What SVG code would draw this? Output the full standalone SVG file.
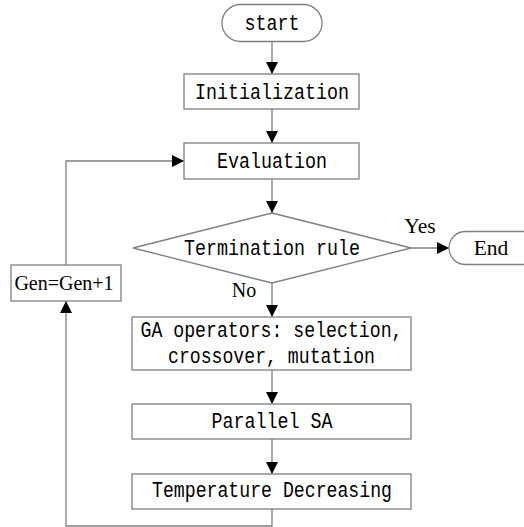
<svg xmlns="http://www.w3.org/2000/svg" width="524" height="527" viewBox="0 0 524 527">
<style>
.box{fill:#fff;stroke:#7f7f7f;stroke-width:1.3}
.ln{fill:none;stroke:#7f7f7f;stroke-width:1.3}
.mono{font-family:"Liberation Mono","DejaVu Sans Mono",monospace;font-size:22px;fill:#000;text-anchor:middle}
.serif{font-family:"Liberation Serif","Times New Roman",serif;font-size:20px;fill:#000;text-anchor:middle}
.big{font-size:21.5px}
</style>
<defs>
<marker id="arr" markerWidth="12" markerHeight="12" refX="12" refY="6" orient="auto" markerUnits="userSpaceOnUse">
<path d="M0,0 L12,6 L0,12 Z" fill="#000"/>
</marker>
</defs>
<rect width="524" height="527" fill="#fff"/>
<g id="connectors">
<line class="ln" x1="272" y1="41" x2="272" y2="74" marker-end="url(#arr)"/>
<line class="ln" x1="272" y1="109" x2="272" y2="143" marker-end="url(#arr)"/>
<line class="ln" x1="272" y1="179" x2="272" y2="213" marker-end="url(#arr)"/>
<line class="ln" x1="411" y1="248" x2="449" y2="248" marker-end="url(#arr)"/>
<line class="ln" x1="272" y1="283" x2="272" y2="317" marker-end="url(#arr)"/>
<line class="ln" x1="272" y1="370" x2="272" y2="404" marker-end="url(#arr)"/>
<line class="ln" x1="272" y1="439" x2="272" y2="474" marker-end="url(#arr)"/>
<polyline class="ln" points="272,509 272,526 66,526 66,301" marker-end="url(#arr)"/>
<polyline class="ln" points="66,265 66,161 184,161" marker-end="url(#arr)"/>
<text class="serif big" x="420" y="233">Yes</text>
<text class="serif" x="244" y="297">No</text>
</g>
<g id="start">
<rect class="box" x="222" y="4.5" width="100" height="37" rx="18.5"/>
<text class="mono" x="272" y="30" textLength="55" lengthAdjust="spacingAndGlyphs">start</text>
</g>
<g id="init">
<rect class="box" x="184" y="74" width="175" height="35"/>
<text class="mono" x="272" y="99" textLength="154" lengthAdjust="spacingAndGlyphs">Initialization</text>
</g>
<g id="eval">
<rect class="box" x="184" y="143" width="175" height="36"/>
<text class="mono" x="272" y="168" textLength="110" lengthAdjust="spacingAndGlyphs">Evaluation</text>
</g>
<g id="term">
<polygon class="box" points="272,213 411,248 272,283 133,248"/>
<text class="mono" x="272" y="255" textLength="176" lengthAdjust="spacingAndGlyphs">Termination rule</text>
</g>
<g id="end">
<rect class="box" x="449" y="231.5" width="110" height="33" rx="16.5"/>
<text class="serif big" x="491" y="255">End</text>
</g>
<g id="ga">
<rect class="box" x="132" y="317" width="279" height="53"/>
<text class="mono" x="271.5" y="337" textLength="262" lengthAdjust="spacingAndGlyphs">GA operators: selection,</text>
<text class="mono" x="271.5" y="363" textLength="207" lengthAdjust="spacingAndGlyphs">crossover, mutation</text>
</g>
<g id="psa">
<rect class="box" x="132" y="404" width="279" height="35"/>
<text class="mono" x="272" y="428" textLength="121" lengthAdjust="spacingAndGlyphs">Parallel SA</text>
</g>
<g id="temp">
<rect class="box" x="132" y="474" width="279" height="35"/>
<text class="mono" x="272" y="497" textLength="240" lengthAdjust="spacingAndGlyphs">Temperature Decreasing</text>
</g>
<g id="gen">
<rect class="box" x="11" y="265" width="110" height="36"/>
<text class="serif" x="64" y="290">Gen=Gen+1</text>
</g>
</svg>
